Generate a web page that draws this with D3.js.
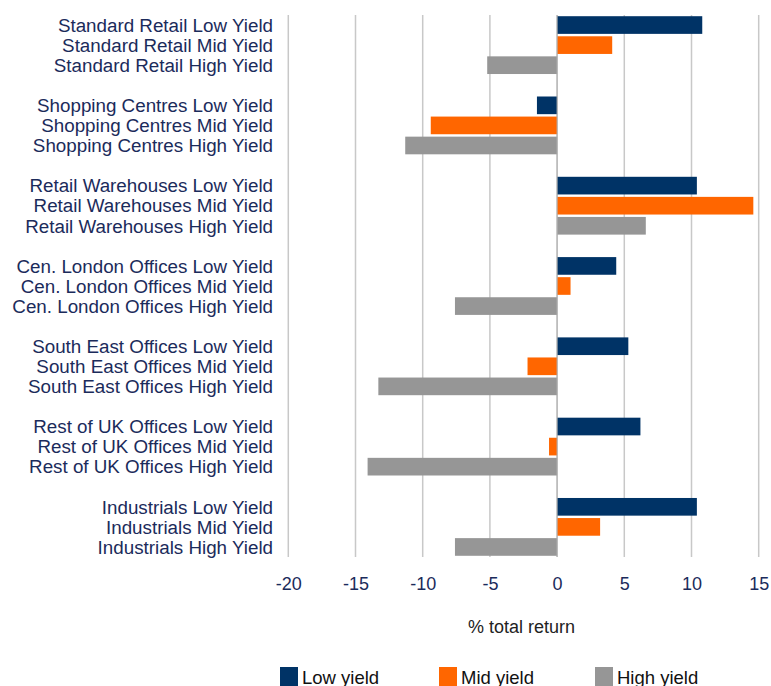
<!DOCTYPE html>
<html>
<head>
<meta charset="utf-8">
<script src="https://cdn.jsdelivr.net/npm/d3@7"></script>
<style>
  html, body { margin: 0; padding: 0; background: #fff; }
  svg { display: block; font-family: "Liberation Sans", Arial, sans-serif; }
</style>
</head>
<body>
<svg id="chart" width="771" height="686"></svg>
<script>
const sectors = ["Standard Retail", "Shopping Centres", "Retail Warehouses", "Cen. London Offices", "South East Offices", "Rest of UK Offices", "Industrials"];
const yieldBands = ["Low Yield", "Mid Yield", "High Yield"];
const seriesNames = ["Low yield", "Mid yield", "High yield"];
const lowYield  = [10.8, -1.5, 10.4, 4.4, 5.3, 6.2, 10.4];
const midYield  = [4.1, -9.4, 14.6, 1.0, -2.2, -0.6, 3.2];
const highYield = [-5.2, -11.3, 6.6, -7.6, -13.3, -14.1, -7.6];
const xTicks = [-20, -15, -10, -5, 0, 5, 10, 15];
const axisTitle = "% total return";
const colors = ["#003366", "#ff6600", "#969696"];

const seriesValues = [lowYield, midYield, highYield];
const rows = [];
sectors.forEach((s, i) => {
  yieldBands.forEach((yb, j) => {
    rows.push({ key: s + " " + yb, label: s + " " + yb, value: seriesValues[j][i], series: j });
  });
  if (i < sectors.length - 1) rows.push({ key: "blank" + i, label: "", value: null, series: -1 });
});

const svg = d3.select("#chart");
const plot = { left: 288.3, right: 758.7, top: 15, bottom: 557 };

const x = d3.scaleLinear().domain([-20, 15]).range([plot.left, plot.right]);
const y = d3.scaleBand().domain(rows.map(r => r.key)).range([plot.top, plot.bottom]).paddingInner(0.12).paddingOuter(0.06);

// gridlines
svg.append("g").selectAll("line").data(xTicks).join("line")
  .attr("x1", d => x(d)).attr("x2", d => x(d))
  .attr("y1", plot.top).attr("y2", plot.bottom)
  .attr("stroke", "#c8c8c8").attr("stroke-width", 1.5);

// bars
svg.append("g").selectAll("rect").data(rows.filter(r => r.value !== null)).join("rect")
  .attr("x", d => x(Math.min(0, d.value)))
  .attr("width", d => Math.abs(x(d.value) - x(0)))
  .attr("y", d => y(d.key))
  .attr("height", y.bandwidth())
  .attr("fill", d => colors[d.series]);

// zero axis line
svg.append("line")
  .attr("x1", x(0)).attr("x2", x(0))
  .attr("y1", plot.top).attr("y2", plot.bottom)
  .attr("stroke", "#b0b0b0").attr("stroke-width", 1);

// category labels
const yAxis = d3.axisLeft(y).tickSize(0).tickPadding(0).tickFormat(k => rows.find(r => r.key === k).label);
const gy = svg.append("g").attr("transform", `translate(273,0)`).call(yAxis);
gy.select(".domain").remove();
gy.selectAll("text").attr("fill", "#1b2b5b").attr("font-size", 18.8).attr("font-family", "Liberation Sans, Arial, sans-serif").attr("dy", "0.36em");

// x tick labels
const xAxis = d3.axisBottom(x).tickValues(xTicks).tickSize(0).tickPadding(0).tickFormat(d => String(d));
const gx = svg.append("g").attr("transform", `translate(0,590)`).call(xAxis);
gx.select(".domain").remove();
gx.selectAll("text").attr("fill", "#1b2b5b").attr("font-size", 18).attr("font-family", "Liberation Sans, Arial, sans-serif").attr("y", 0).attr("dy", 0);

// axis title
svg.append("text")
  .attr("x", (x(-20) + x(15)) / 2 - 2).attr("y", 633)
  .attr("text-anchor", "middle")
  .attr("font-size", 18).attr("fill", "#222")
  .text(axisTitle);

// legend
const legendX = [280, 439, 595];
const lg = svg.append("g").selectAll("g").data(seriesNames).join("g")
  .attr("transform", (d, i) => `translate(${legendX[i]},667)`);
lg.append("rect").attr("width", 18).attr("height", 19).attr("fill", (d, i) => colors[i]);
lg.append("text").attr("x", 22).attr("y", 16.5).attr("font-size", 18.5).attr("fill", "#111").text(d => d);
</script>
</body>
</html>
